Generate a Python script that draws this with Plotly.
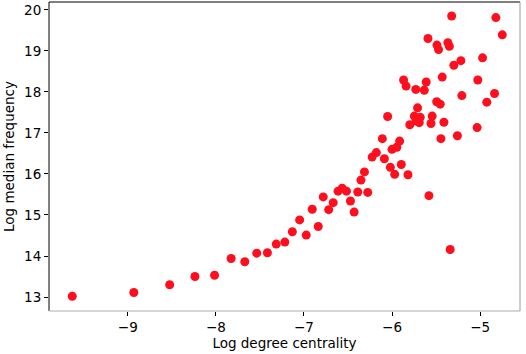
import plotly.graph_objects as go

log_degree = [-9.631, -8.932, -8.525, -8.238, -8.015, -7.827, -7.672, -7.536, -7.415, -7.315,
              -7.217, -7.132, -7.049, -6.974, -6.906, -6.838, -6.781, -6.719, -6.668, -6.613,
              -6.566, -6.517, -6.472, -6.430, -6.389, -6.276, -6.353, -6.313, -6.226, -6.178,
              -6.087, -6.110, -5.914, -5.946, -6.000, -6.019, -5.895, -5.970, -5.819, -6.050,
              -5.710, -5.747, -5.680, -5.725, -5.798, -5.691, -5.544, -5.558, -5.411, -5.445,
              -5.258, -5.034, -5.581, -5.340, -5.869, -5.841, -5.730, -5.612, -5.634, -5.493,
              -5.453, -5.207, -4.836, -4.924, -5.430, -5.026, -5.298, -5.218, -4.972, -5.490,
              -5.472, -5.366, -5.349, -5.592, -5.323, -4.821, -4.748]
log_median_freq = [13.02, 13.11, 13.30, 13.50, 13.53, 13.94, 13.86, 14.07, 14.08, 14.29,
                   14.34, 14.59, 14.88, 14.51, 15.14, 14.72, 15.44, 15.13, 15.30, 15.58,
                   15.65, 15.58, 15.34, 15.07, 15.56, 15.55, 15.85, 16.05, 16.41, 16.52,
                   16.37, 16.86, 16.80, 16.65, 16.60, 16.16, 16.23, 15.99, 15.98, 17.40,
                   17.61, 17.41, 17.38, 17.29, 17.20, 17.25, 17.41, 17.23, 17.26, 16.86,
                   16.93, 17.13, 15.47, 14.16, 18.29, 18.14, 18.06, 18.24, 18.04, 17.76,
                   17.70, 17.91, 17.96, 17.75, 18.36, 18.29, 18.65, 18.76, 18.83, 19.14,
                   19.03, 19.20, 19.11, 19.30, 19.85, 19.81, 19.39]

x_ticks = [-9, -8, -7, -6, -5]
x_tick_labels = ["\u22129", "\u22128", "\u22127", "\u22126", "\u22125"]
y_ticks = [13, 14, 15, 16, 17, 18, 19, 20]

fig = go.Figure(go.Scatter(
    x=log_degree, y=log_median_freq, mode="markers",
    marker=dict(size=9, color="rgb(255,15,30)", line=dict(width=0)),
))

font = dict(family="DejaVu Sans", size=13.5, color="black")
fig.update_layout(
    width=526, height=354,
    margin=dict(l=49, r=6, t=2, b=43, autoexpand=False),
    paper_bgcolor="white", plot_bgcolor="white",
    showlegend=False, font=font,
    xaxis=dict(range=[-9.895, -4.547], tickvals=x_ticks, ticktext=x_tick_labels,
               ticks="outside", ticklen=4, tickcolor="black", showgrid=False, zeroline=False,
               showline=False, automargin=False,
               title=dict(text="Log degree centrality", font=font, standoff=4)),
    yaxis=dict(range=[12.66, 20.19], tickvals=y_ticks,
               ticks="outside", ticklen=4, tickcolor="black", showgrid=False, zeroline=False,
               showline=False, automargin=False,
               title=dict(text="Log median frequency", font=font, standoff=6)),
    shapes=[
        dict(type="line", xref="paper", yref="paper", x0=0, x1=0, y0=0, y1=1, line=dict(color="black", width=1)),
        dict(type="line", xref="paper", yref="paper", x0=0, x1=1, y0=1, y1=1, line=dict(color="black", width=1)),
        dict(type="line", xref="paper", yref="paper", x0=0, x1=1, y0=0, y1=0, line=dict(color="#c8c8c8", width=1.5)),
        dict(type="line", xref="paper", yref="paper", x0=1, x1=1, y0=0, y1=1, line=dict(color="#9a9a9a", width=1)),
    ],
)
fig.write_html("out.html", config={"displayModeBar": False},
               post_script="document.body.style.margin='0';document.body.style.overflow='hidden';")
